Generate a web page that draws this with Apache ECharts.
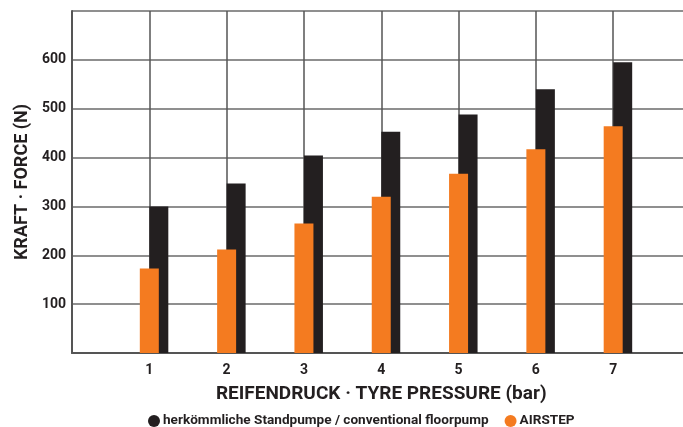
<!DOCTYPE html>
<html>
<head>
<meta charset="utf-8">
<script src="https://cdn.jsdelivr.net/npm/echarts@6/dist/echarts.min.js"></script>
<style>
html,body{margin:0;padding:0;background:#fff;}
#chart{width:683px;height:427px;}
</style>
</head>
<body>
<div id="chart"></div>
<script>
var categories = ['1', '2', '3', '4', '5', '6', '7'];
var conventional = [300, 347, 404, 453, 488, 540, 595];
var airstep = [173, 212, 265, 320, 367, 417, 464];
var nameConventional = 'herkömmliche Standpumpe / conventional floorpump';
var nameAirstep = 'AIRSTEP';

var FONT = 'Roboto, "Liberation Sans Narrow", sans-serif';
var axisData = [''].concat(categories).concat(['']);
function pad(arr) { return [null].concat(arr).concat([null]); }

var chart = echarts.init(document.getElementById('chart'), null, {renderer: 'canvas'});
chart.setOption({
  animation: false,
  backgroundColor: '#ffffff',
  grid: {left: 72, top: 11, right: -7.5, bottom: 74, outerBoundsMode: 'none', containLabel: false},
  legend: {
    data: [nameConventional, nameAirstep],
    left: 143, top: 409,
    icon: 'circle', itemWidth: 12, itemHeight: 12, itemGap: 16,
    textStyle: {fontFamily: FONT, fontWeight: 'bold', fontSize: 13.6, color: '#231f20', padding: [0, 0, 0, -2]}
  },
  xAxis: {
    type: 'category',
    data: axisData,
    boundaryGap: false,
    name: 'REIFENDRUCK · TYRE PRESSURE (bar)',
    nameLocation: 'middle',
    nameGap: 32,
    nameTextStyle: {fontFamily: FONT, fontWeight: 'bold', fontSize: 19, color: '#231f20'},
    axisLine: {show: true, lineStyle: {color: '#555', width: 2}},
    axisTick: {show: false},
    axisLabel: {fontFamily: FONT, fontWeight: 'bold', fontSize: 14, color: '#231f20', margin: 10, interval: 0},
    splitLine: {show: true, interval: 0, lineStyle: {color: '#555', width: 1.5}}
  },
  yAxis: {
    type: 'value',
    min: 0, max: 700, interval: 100,
    name: 'KRAFT · FORCE (N)',
    nameLocation: 'middle',
    nameGap: 41,
    nameTextStyle: {fontFamily: FONT, fontWeight: 'bold', fontSize: 18, color: '#231f20'},
    axisLine: {show: true, lineStyle: {color: '#555', width: 2}},
    axisTick: {show: false},
    axisLabel: {fontFamily: FONT, fontWeight: 'bold', fontSize: 14, color: '#231f20', margin: 6,
      showMinLabel: false, showMaxLabel: false},
    splitLine: {show: true, lineStyle: {color: '#6a6a6a', width: 1.5}}
  },
  series: [
    {name: '_pad', type: 'bar', data: pad(categories.map(function(){return null;})), barWidth: 19, barGap: '-50%', silent: true},
    {name: nameAirstep, type: 'bar', data: pad(airstep), barWidth: 19, barGap: '-50%', z: 4,
      itemStyle: {color: '#f47b20'}},
    {name: nameConventional, type: 'bar', data: pad(conventional), barWidth: 19, barGap: '-50%', z: 3,
      itemStyle: {color: '#231f20'}}
  ]
});
</script>
</body>
</html>
